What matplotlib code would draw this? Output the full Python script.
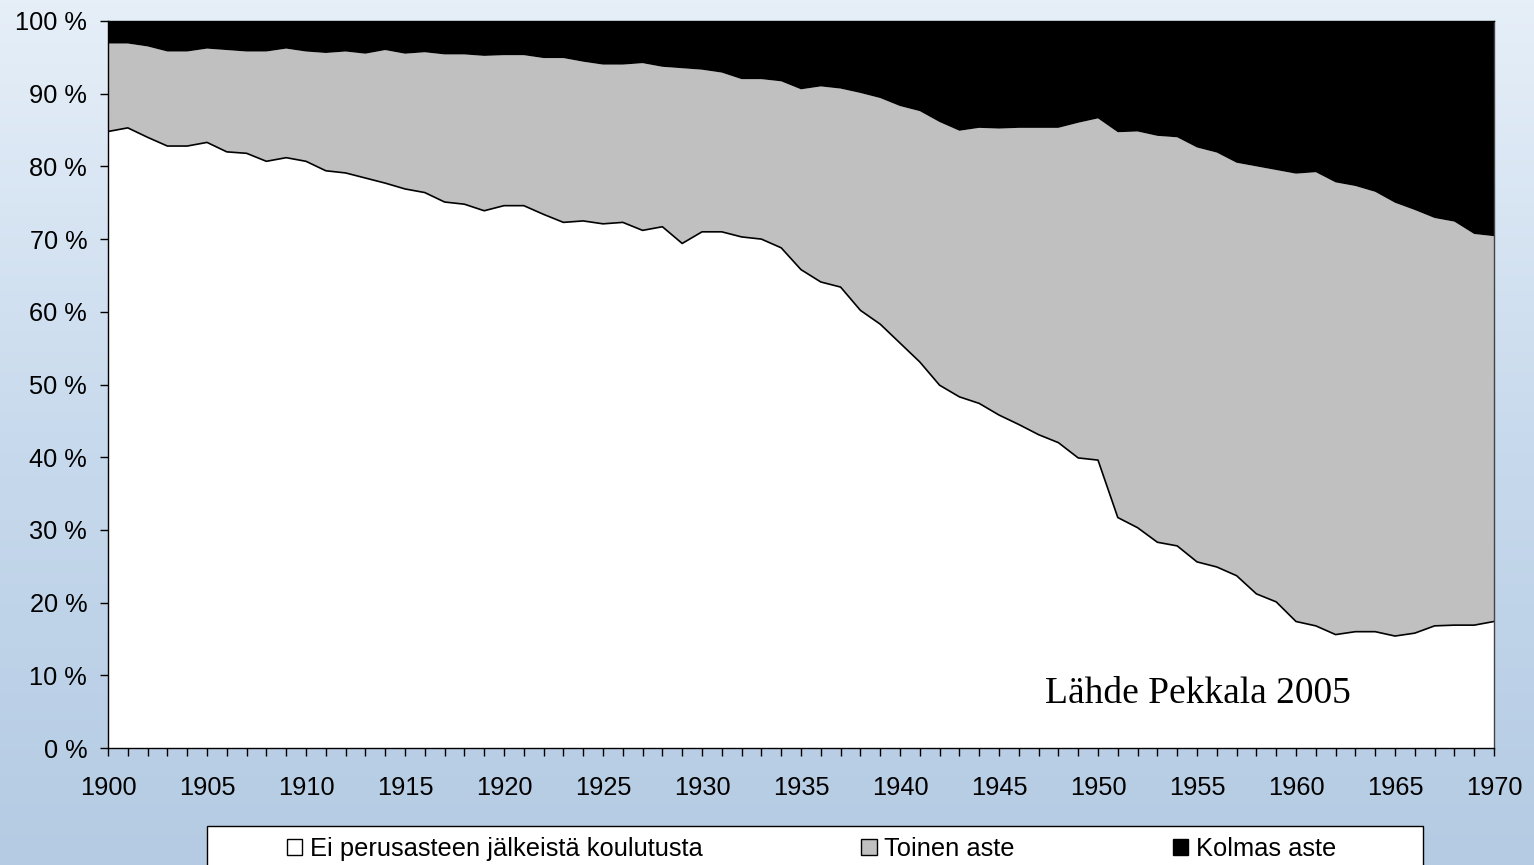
import matplotlib
matplotlib.use("Agg")
import matplotlib.pyplot as plt
import numpy as np
from matplotlib.patches import Rectangle, Patch
from matplotlib.colors import LinearSegmentedColormap

years = list(range(1900, 1971))

ei_perus = [84.8, 85.3, 84.0, 82.8, 82.8, 83.3, 82.0, 81.8, 80.7, 81.2,
            80.7, 79.4, 79.1, 78.4, 77.7, 76.9, 76.4, 75.1, 74.8, 73.9,
            74.6, 74.6, 73.4, 72.3, 72.5, 72.1, 72.3, 71.2, 71.7, 69.4,
            71.0, 71.0, 70.3, 70.0, 68.8, 65.8, 64.1, 63.4, 60.2, 58.3,
            55.7, 53.1, 49.9, 48.3, 47.4, 45.8, 44.5, 43.1, 42.0, 39.9,
            39.6, 31.7, 30.3, 28.3, 27.8, 25.6, 24.9, 23.7, 21.2, 20.1,
            17.4, 16.8, 15.6, 16.0, 16.0, 15.4, 15.8, 16.8, 16.9, 16.9,
            17.4]

toinen = [12.1, 11.6, 12.5, 13.0, 13.0, 12.9, 14.0, 14.0, 15.1, 15.0,
          15.1, 16.2, 16.7, 17.1, 18.3, 18.6, 19.3, 20.3, 20.6, 21.3,
          20.7, 20.7, 21.5, 22.6, 21.9, 21.9, 21.7, 23.0, 22.0, 24.1,
          22.3, 21.9, 21.7, 22.0, 22.9, 24.8, 26.9, 27.3, 29.9, 31.1,
          32.6, 34.5, 36.2, 36.6, 37.9, 39.4, 40.8, 42.2, 43.3, 46.1,
          47.0, 53.0, 54.5, 55.9, 56.2, 57.0, 57.0, 56.8, 58.8, 59.4,
          61.6, 62.4, 62.2, 61.3, 60.5, 59.6, 58.2, 56.1, 55.5, 53.8,
          53.0]

kolmas = [3.1, 3.1, 3.5, 4.2, 4.2, 3.8, 4.0, 4.2, 4.2, 3.8,
          4.2, 4.4, 4.2, 4.5, 4.0, 4.5, 4.3, 4.6, 4.6, 4.8,
          4.7, 4.7, 5.1, 5.1, 5.6, 6.0, 6.0, 5.8, 6.3, 6.5,
          6.7, 7.1, 8.0, 8.0, 8.3, 9.4, 9.0, 9.3, 9.9, 10.6,
          11.7, 12.4, 13.9, 15.1, 14.7, 14.8, 14.7, 14.7, 14.7, 14.0,
          13.4, 15.3, 15.2, 15.8, 16.0, 17.4, 18.1, 19.5, 20.0, 20.5,
          21.0, 20.8, 22.2, 22.7, 23.5, 25.0, 26.0, 27.1, 27.6, 29.3,
          29.6]

labels = ["Ei perusasteen jälkeistä koulutusta", "Toinen aste", "Kolmas aste"]
colors = ["#ffffff", "#c0c0c0", "#000000"]
ytick_vals = list(range(0, 101, 10))
ytick_labels = [f"{v} %" for v in ytick_vals]
xtick_vals = list(range(1900, 1971, 5))

W, H = 1534, 865
fig = plt.figure(figsize=(W / 100, H / 100), dpi=100)

# background
bg = fig.add_axes([0, 0, 1, 1], zorder=-10)
cmap = LinearSegmentedColormap.from_list("bg", ["#e6eff8", "#c8daed", "#b4cbe3"])
grad = np.linspace(0, 1, 256).reshape(-1, 1)
bg.imshow(grad, aspect="auto", cmap=cmap, extent=[0, 1, 0, 1], origin="upper")
bg.set_axis_off()

ax = fig.add_axes([108 / W, (H - 748) / H, 1386 / W, 727 / H])
ax.stackplot(years, ei_perus, toinen, kolmas, colors=colors, linewidth=0)
ax.plot(years, ei_perus, color="black", lw=1.2)

ax.set_xlim(1900, 1970)
ax.set_ylim(0, 100)
ax.set_yticks(ytick_vals)
ax.set_yticklabels(ytick_labels)
ax.set_xticks(xtick_vals)
ax.set_xticks(years, minor=True)
ax.tick_params(axis="x", which="both", direction="out", length=6, width=1,
               color="black", pad=14, labelsize=18.3)
ax.tick_params(axis="y", direction="out", length=6, width=1, color="black",
               pad=9, labelsize=18.3)
for lab in ax.get_xticklabels() + ax.get_yticklabels():
    lab.set_fontfamily("Liberation Sans")
for sp in ax.spines.values():
    sp.set_color("black")
    sp.set_linewidth(1)
ax.spines["right"].set_color("#444444")

ax.text(0.676, 0.062, "Lähde Pekkala 2005", transform=ax.transAxes,
        fontfamily="Liberation Serif", fontsize=27, va="baseline", ha="left")

# legend frame
frame = Rectangle((207 / W, -0.05), (1423 - 207) / W, (H - 826) / H + 0.05,
                  transform=fig.transFigure, facecolor="white",
                  edgecolor="black", lw=1, zorder=1)
fig.patches.append(frame)
handles = [Patch(facecolor=c, edgecolor="black", lw=1) for c in colors]
leg = fig.legend(handles, labels, ncol=3, loc="center left",
                 bbox_to_anchor=(287 / W, (H - 849) / H), frameon=False,
                 prop={"family": "Liberation Sans", "size": 18.4},
                 handlelength=0.6, handleheight=0.6, handletextpad=0.3,
                 columnspacing=6.2, borderpad=0, borderaxespad=0)
leg.set_zorder(2)

fig.savefig("out.png", dpi=100)
